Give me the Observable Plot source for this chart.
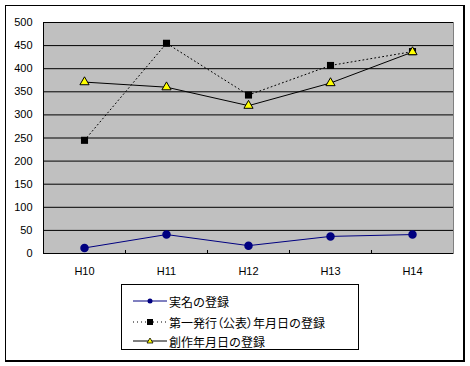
<!DOCTYPE html>
<html>
<head>
<meta charset="utf-8">
<script src="https://cdn.jsdelivr.net/npm/d3@7"></script>
<script src="https://cdn.jsdelivr.net/npm/@observablehq/plot@0.6"></script>
<style>
body{margin:0;background:#fff;}
#wrap{position:relative;width:470px;height:366px;overflow:hidden;}
#frame{position:absolute;left:5px;top:5px;width:457px;height:354px;border:1px solid #000;border-right-width:2px;border-bottom-width:2px;pointer-events:none;}
#legend{position:absolute;left:121px;top:284px;width:236px;height:64px;border:1px solid #000;background:#fff;font-family:"Noto Sans CJK JP";font-size:12px;}
.row{position:absolute;left:11px;height:16px;display:flex;align-items:center;}
.row svg{display:block;margin-right:2px;}
.p{font-feature-settings:"palt";}
</style>
</head>
<body>
<div id="wrap"><div id="chart"></div><div id="frame"></div><div id="legend"></div></div>
<script>
const categories = ["H10","H11","H12","H13","H14"];
const jitsumei = [12, 41, 17, 37, 41];
const hakko = [245, 455, 343, 407, 437];
const sosaku = [371, 360, 320, 369, 436];
const yTicks = [0,50,100,150,200,250,300,350,400,450,500];
const seriesNames = ["実名の登録","第一発行（公表）年月日の登録","創作年月日の登録"];

const rows = arr => categories.map((c,i)=>({cat:c, v:arr[i]}));
const s1 = rows(jitsumei), s2 = rows(hakko), s3 = rows(sosaku);
const halfBand = (453-43)/categories.length/2;

const chart = Plot.plot({
  width:470, height:366,
  marginLeft:43, marginRight:17, marginTop:22, marginBottom:113,
  x:{type:"band", domain:categories, padding:0},
  y:{domain:[0,500]},
  style:{fontFamily:"Liberation Sans", fontSize:"11px", background:"transparent", color:"#000"},
  marks:[
    Plot.frame({fill:"#c0c0c0", stroke:"#808080"}),
    Plot.ruleY(yTicks, {stroke:"#000", strokeWidth:1}),
    Plot.frame({anchor:"left", stroke:"#000"}),
    Plot.ruleX(categories.slice(1), {y1:0, y2:6.5, dx:-halfBand, stroke:"#000"}),
    Plot.axisY({ticks:yTicks, tickSize:0, tickPadding:11, label:null}),
    Plot.axisX({tickSize:0, tickPadding:14, label:null}),
    Plot.line(s1, {x:"cat", y:"v", stroke:"#000080", strokeWidth:1}),
    Plot.dot(s1, {x:"cat", y:"v", r:3.5, fill:"#000080", stroke:"#000080"}),
    Plot.line(s2, {x:"cat", y:"v", stroke:"#000", strokeWidth:1, strokeDasharray:"1,3"}),
    Plot.dot(s2, {x:"cat", y:"v", symbol:"square", r:4, fill:"#000", stroke:"none"}),
    Plot.line(s3, {x:"cat", y:"v", stroke:"#000", strokeWidth:1}),
    Plot.dot(s3, {x:"cat", y:"v", symbol:"triangle", r:3.4, fill:"#ffff00", stroke:"#000", strokeWidth:1})
  ]
});
document.getElementById("chart").appendChild(chart);

const swatches = [
  `<line x1="0" y1="8" x2="34" y2="8" stroke="#000080"/><circle cx="17" cy="8" r="2.5" fill="#000080"/>`,
  `<line x1="0" y1="8" x2="34" y2="8" stroke="#000" stroke-dasharray="1,3"/><rect x="14" y="5" width="6" height="6" fill="#000"/>`,
  `<line x1="0" y1="8" x2="34" y2="8" stroke="#000"/><path d="M17,5 L20,10 L14,10 Z" fill="#ffff00" stroke="#000" stroke-width="0.8"/>`
];
const lg = document.getElementById("legend");
const tops = [8, 29, 48];
seriesNames.forEach((n,i)=>{
  const r = document.createElement("div");
  r.className = "row";
  r.style.top = tops[i] + "px";
  const label = n.replace(/([（）])/g, '<span class="p">$1</span>');
  r.innerHTML = `<svg width="34" height="16">${swatches[i]}</svg><span>${label}</span>`;
  lg.appendChild(r);
});
</script>
</body>
</html>
